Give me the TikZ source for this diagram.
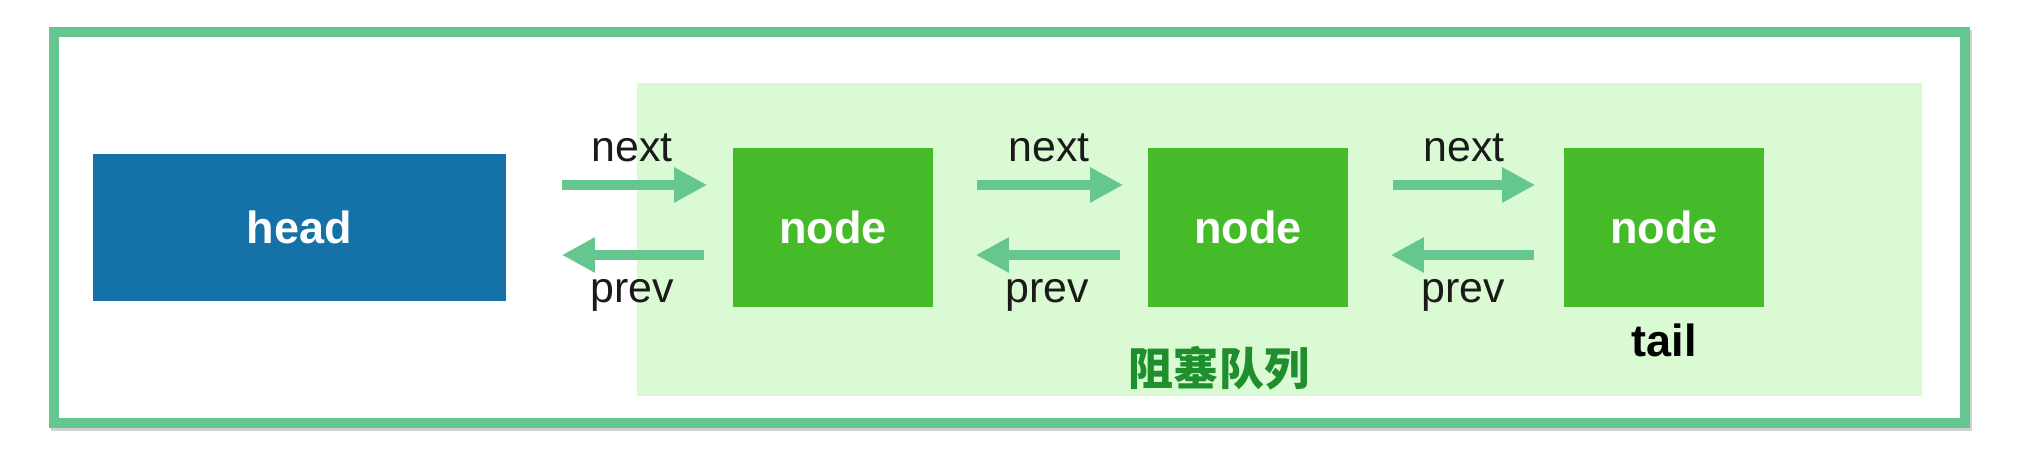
\documentclass[tikz,border=0pt]{standalone}
\usepackage{fontspec}
\setmainfont{Liberation Sans}
\newfontfamily\cjk{Noto Sans CJK SC}
\usetikzlibrary{arrows.meta,calc}
\definecolor{framegreen}{HTML}{66C68F}
\definecolor{queuebg}{HTML}{DAFAD3}
\definecolor{headblue}{HTML}{1472A8}
\definecolor{nodegreen}{HTML}{45BB2A}
\definecolor{labelgreen}{HTML}{1F8E2C}
\definecolor{txt}{HTML}{1A1A1A}
\tikzset{
  headbox/.style={fill=headblue, text=white, inner sep=0pt, minimum width=4.13cm, minimum height=1.47cm, font=\fontsize{12.8}{15}\selectfont\bfseries},
  nodebox/.style={fill=nodegreen, text=white, inner sep=0pt, minimum width=2cm, minimum height=1.59cm, font=\fontsize{12.8}{15}\selectfont\bfseries},
  arr/.style={draw=framegreen, line width=0.1cm, -{Triangle[length=0.33cm,width=0.33cm]}},
  lbl/.style={text=txt, inner sep=0pt, anchor=base, font=\fontsize{12.2}{14}\selectfont},
}
\begin{document}
\begin{tikzpicture}[x=0.01cm,y=-0.01cm]
\useasboundingbox (0,0) rectangle (2017,465);
\fill[white] (0,0) rectangle (2017,465);
% shadow of the outer frame
\draw[black!18, line width=0.1cm] (56,35) rectangle (1967,426);
\fill[white] (59,37) rectangle (1960,418);
% queue background
\fill[queuebg] (637,83) rectangle (1922,396);
% outer frame
\draw[framegreen, line width=0.1cm] (54,32) rectangle (1965,423);
% boxes
\node[headbox] (head) at (299.5,227.5) {head};
\node[nodebox] (n1) at (833,227.5) {node};
\node[nodebox] (n2) at (1248,227.5) {node};
\node[nodebox] (n3) at (1664,227.5) {node};
% arrows
\draw[arr] ([xshift=0.55cm,yshift=0.425cm]head.east) -- ([xshift=-0.25cm,yshift=0.425cm]n1.west);
\draw[arr] ([xshift=-0.28cm,yshift=-0.275cm]n1.west) -- ([xshift=0.55cm,yshift=-0.275cm]head.east);
\draw[arr] ([xshift=0.43cm,yshift=0.425cm]n1.east) -- ([xshift=-0.24cm,yshift=0.425cm]n2.west);
\draw[arr] ([xshift=-0.27cm,yshift=-0.275cm]n2.west) -- ([xshift=0.42cm,yshift=-0.275cm]n1.east);
\draw[arr] ([xshift=0.44cm,yshift=0.425cm]n2.east) -- ([xshift=-0.28cm,yshift=0.425cm]n3.west);
\draw[arr] ([xshift=-0.29cm,yshift=-0.275cm]n3.west) -- ([xshift=0.42cm,yshift=-0.275cm]n2.east);
% labels
\node[lbl] (nx1) at (632,162) {next};
\node[lbl] (pv1) at (632,303) {prev};
\node[lbl] (nx2) at (1049,162) {next};
\node[lbl] (pv2) at (1047,303) {prev};
\node[lbl] (nx3) at (1464,162) {next};
\node[lbl] (pv3) at (1463,303) {prev};
\node[text=black, inner sep=0pt, anchor=base, font=\fontsize{12.8}{15}\selectfont\bfseries] (tail) at (1664,357) {tail};
\node[text=labelgreen, inner sep=0pt, font=\cjk\bfseries\fontsize{12.8}{15}\selectfont] (queue) at (1219,368) {阻塞队列};
\end{tikzpicture}
\end{document}
